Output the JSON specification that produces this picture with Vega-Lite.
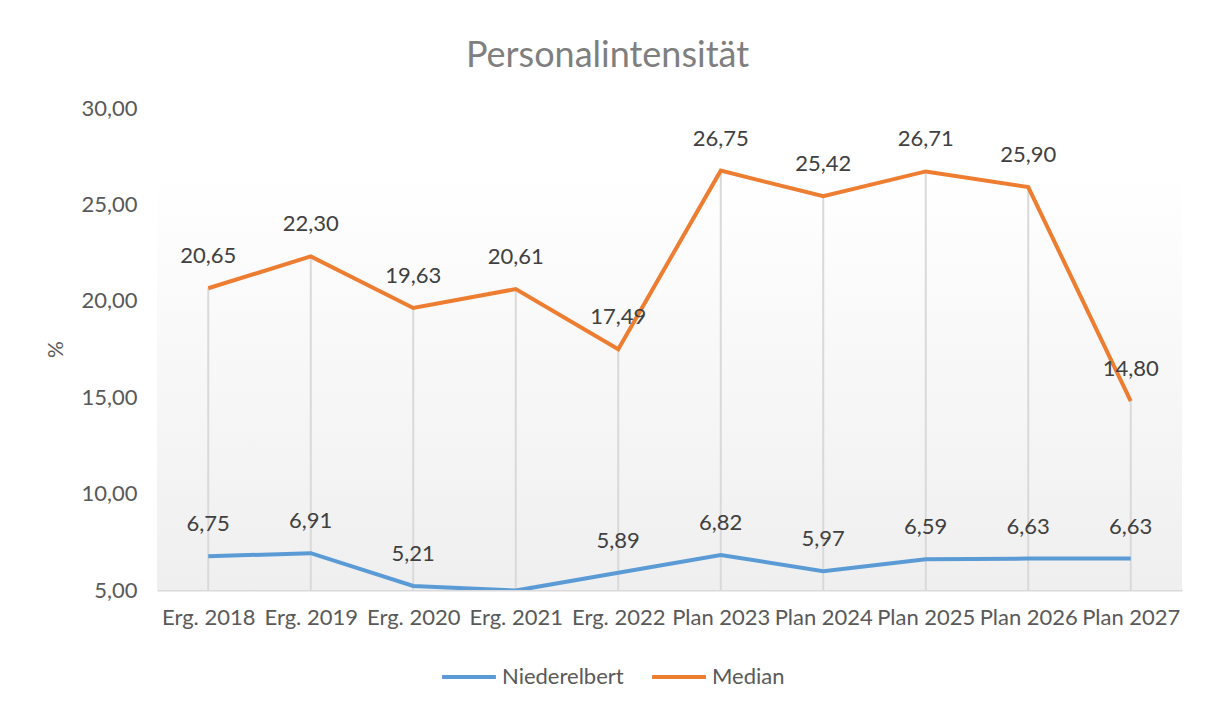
{
  "$schema": "https://vega.github.io/schema/vega-lite/v6.json",
  "autosize": {"type": "none"},
  "width": 1025,
  "height": 482,
  "padding": {"left": 157, "top": 108, "right": 27, "bottom": 112},
  "background": "#ffffff",
  "config": {
    "locale": {"number": {"decimal": ",", "thousands": ".", "grouping": [3], "currency": ["", " €"]}},
    "font": "Lato",
    "view": {"stroke": null},
    "title": {"font": "Lato", "fontSize": 36, "fontWeight": "normal", "color": "#7f7f7f"}
  },
  "title": {"text": "Personalintensität", "anchor": "middle", "dx": -62, "offset": 22},
  "data": {
    "values": [
      {"cat": "Erg. 2018", "series": "Niederelbert", "value": 6.75},
      {"cat": "Erg. 2019", "series": "Niederelbert", "value": 6.91},
      {"cat": "Erg. 2020", "series": "Niederelbert", "value": 5.21},
      {"cat": "Erg. 2021", "series": "Niederelbert", "value": 4.97},
      {"cat": "Erg. 2022", "series": "Niederelbert", "value": 5.89},
      {"cat": "Plan 2023", "series": "Niederelbert", "value": 6.82},
      {"cat": "Plan 2024", "series": "Niederelbert", "value": 5.97},
      {"cat": "Plan 2025", "series": "Niederelbert", "value": 6.59},
      {"cat": "Plan 2026", "series": "Niederelbert", "value": 6.63},
      {"cat": "Plan 2027", "series": "Niederelbert", "value": 6.63},
      {"cat": "Erg. 2018", "series": "Median", "value": 20.65},
      {"cat": "Erg. 2019", "series": "Median", "value": 22.30},
      {"cat": "Erg. 2020", "series": "Median", "value": 19.63},
      {"cat": "Erg. 2021", "series": "Median", "value": 20.61},
      {"cat": "Erg. 2022", "series": "Median", "value": 17.49},
      {"cat": "Plan 2023", "series": "Median", "value": 26.75},
      {"cat": "Plan 2024", "series": "Median", "value": 25.42},
      {"cat": "Plan 2025", "series": "Median", "value": 26.71},
      {"cat": "Plan 2026", "series": "Median", "value": 25.90},
      {"cat": "Plan 2027", "series": "Median", "value": 14.80}
    ]
  },
  "encoding": {
    "x": {
      "field": "cat", "type": "nominal", "sort": null,
      "scale": {"type": "point", "padding": 0.5},
      "axis": {"title": null, "labelAngle": 0, "labelFontSize": 22, "labelColor": "#595959", "labelPadding": 17, "ticks": false, "domainColor": "#d9d9d9", "domainWidth": 2, "grid": false, "labelFont": "Lato"}
    },
    "y": {
      "field": "value", "type": "quantitative",
      "scale": {"domain": [5, 30], "nice": false, "zero": false},
      "axis": {"title": "%", "titleFontSize": 21, "titleFontWeight": "normal", "titleColor": "#595959", "titlePadding": 14, "values": [5, 10, 15, 20, 25, 30], "format": ".2f", "labelFontSize": 22, "labelColor": "#595959", "labelPadding": 20, "ticks": false, "domain": false, "grid": false}
    }
  },
  "layer": [
    {
      "mark": {"type": "rect", "fill": {"gradient": "linear", "x1": 0, "y1": 0, "x2": 0, "y2": 1, "stops": [{"offset": 0, "color": "#ffffff"}, {"offset": 1, "color": "#efefef"}]}},
      "encoding": {
        "x": {"value": 0},
        "x2": {"value": "width"},
        "y": {"datum": 26.68},
        "y2": {"datum": 5}
      }
    },
    {
      "transform": [{"filter": "datum.series === 'Median'"}],
      "mark": {"type": "rule", "color": "#d9d9d9", "strokeWidth": 2},
      "encoding": {"y2": {"datum": 5}}
    },
    {
      "mark": {"type": "line", "strokeWidth": 4, "clip": true},
      "encoding": {
        "color": {
          "field": "series", "type": "nominal",
          "scale": {"domain": ["Niederelbert", "Median"], "range": ["#5b9bd5", "#ed7d31"]},
          "legend": {"title": null, "orient": "none", "legendX": 283, "legendY": 540, "direction": "horizontal", "symbolType": "stroke", "symbolSize": 2900, "symbolStrokeWidth": 4, "labelFontSize": 22, "labelColor": "#595959", "columnPadding": 20, "labelOffset": 4}
        }
      }
    },
    {
      "transform": [{"filter": "datum.value >= 5"}],
      "mark": {"type": "text", "dy": -32, "fontSize": 22, "color": "#404040"},
      "encoding": {"text": {"field": "value", "type": "quantitative", "format": ".2f"}}
    }
  ]
}
